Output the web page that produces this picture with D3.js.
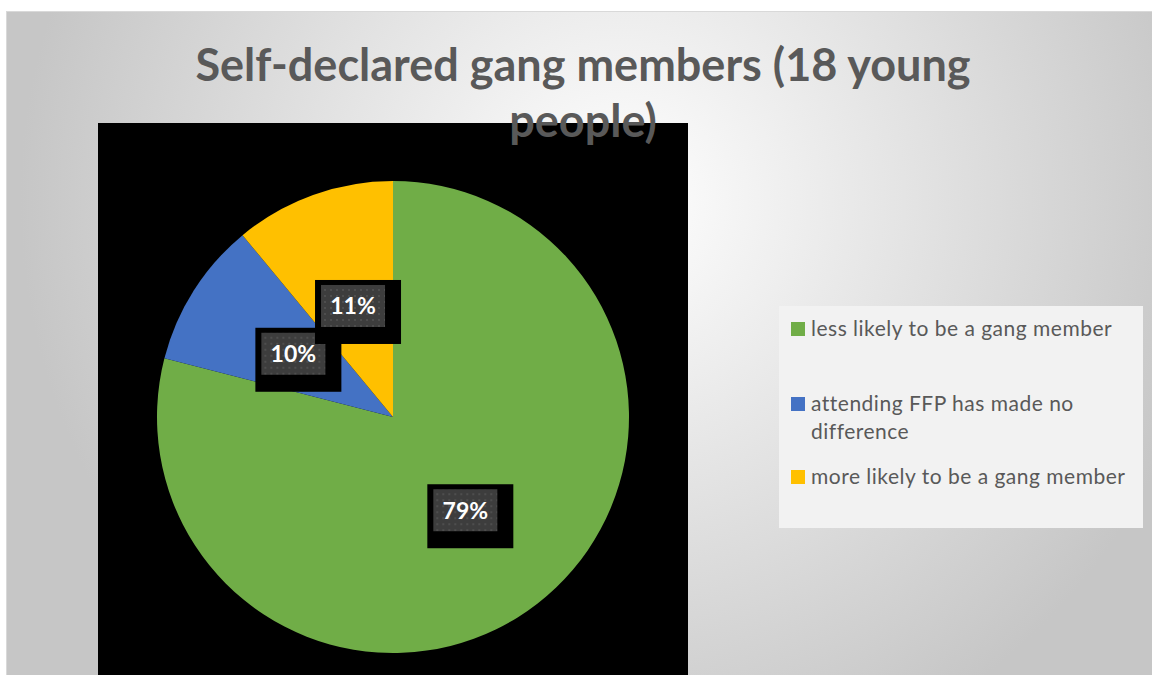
<!DOCTYPE html>
<html>
<head>
<meta charset="utf-8">
<script src="https://cdn.jsdelivr.net/npm/d3@7"></script>
<style>
  html, body { margin: 0; padding: 0; background: #fff; }
  svg { display: block; }
</style>
</head>
<body>
<div class="container"></div>
<script>
// data
const categories = ['less likely to be a gang member', 'attending FFP has made no difference', 'more likely to be a gang member'];
const values = [79, 10, 11];
const labels = ['79%', '10%', '11%'];
const colours = ['#70ad47', '#4472c4', '#ffc000'];
const titleLines = ['Self-declared gang members (18 young', 'people)'];

const w = 1152;
const h = 675;

const svg = d3.select('.container')
              .append('svg')
              .attr('width', w)
              .attr('height', h);

const defs = svg.append('defs');
const grad = defs.append('radialGradient')
                 .attr('id', 'bg')
                 .attr('gradientUnits', 'userSpaceOnUse')
                 .attr('cx', 620).attr('cy', 200).attr('r', 600);
grad.append('stop').attr('offset', '0%').attr('stop-color', '#ffffff');
grad.append('stop').attr('offset', '100%').attr('stop-color', '#c6c6c6');

const pat = defs.append('pattern')
                .attr('id', 'dots')
                .attr('patternUnits', 'userSpaceOnUse')
                .attr('width', 6).attr('height', 6);
pat.append('rect').attr('width', 6).attr('height', 6).attr('fill', '#3d3d3d');
pat.append('rect').attr('x', 1).attr('y', 1).attr('width', 2).attr('height', 2).attr('fill', '#4e4e4e');

// chart area
svg.append('rect')
   .attr('x', 6.5).attr('y', 11.5)
   .attr('width', w).attr('height', h)
   .attr('fill', 'url(#bg)')
   .attr('stroke', '#d9d9d9');

// plot area
const plotBox = {x: 98, y: 123, width: 590, height: 560};
svg.append('rect')
   .attr('x', plotBox.x).attr('y', plotBox.y)
   .attr('width', plotBox.width).attr('height', plotBox.height)
   .attr('fill', '#000');

const radius = 236;
const plot = svg.append('g')
                .attr('transform', `translate(393, 417)`);

const data = categories.map((c, i) => ({name: c, value: values[i], label: labels[i], colour: colours[i]}));

const pie = d3.pie().sort(null).value(d => d.value);
const arc = d3.arc().innerRadius(0).outerRadius(radius);
const arcs = pie(data);

plot.selectAll('path')
    .data(arcs)
    .enter()
    .append('path')
    .attr('d', arc)
    .attr('fill', d => d.data.colour);

// data labels
const lab = plot.selectAll('g.lab')
                .data(arcs)
                .enter()
                .append('g')
                .attr('class', 'lab')
                .attr('transform', d => `translate(${arc.centroid(d)})`);

lab.append('rect')
   .attr('x', -38).attr('y', -26)
   .attr('width', 86).attr('height', 64)
   .attr('fill', '#000');
lab.append('rect')
   .attr('x', -32).attr('y', -21)
   .attr('width', 64).attr('height', 42)
   .attr('fill', 'url(#dots)');
lab.append('text')
   .attr('text-anchor', 'middle')
   .attr('dy', '0.36em')
   .attr('font-family', 'Lato, sans-serif')
   .attr('font-weight', 'bold')
   .attr('font-size', 23)
   .attr('fill', '#fff')
   .text(d => d.data.label);

// title
svg.append('text')
   .attr('text-anchor', 'middle')
   .attr('font-family', 'Lato, sans-serif')
   .attr('font-weight', 'bold')
   .attr('font-size', 45)
   .attr('fill', '#595959')
   .selectAll('tspan')
   .data(titleLines)
   .enter()
   .append('tspan')
   .attr('x', 583)
   .attr('y', (d, i) => 81 + i * 56)
   .text(d => d);

// legend
const legend = svg.append('g');
legend.append('rect')
      .attr('x', 779).attr('y', 306)
      .attr('width', 364).attr('height', 222)
      .attr('fill', '#f2f2f2');

const legendRows = [
  {lines: ['less likely to be a gang member'], y: 329},
  {lines: ['attending FFP has made no', 'difference'], y: 404},
  {lines: ['more likely to be a gang member'], y: 477}
];

const item = legend.selectAll('g.item')
                   .data(data)
                   .enter()
                   .append('g')
                   .attr('class', 'item')
                   .attr('transform', (d, i) => `translate(791, ${legendRows[i].y})`);

item.append('rect')
    .attr('x', 0).attr('y', -7)
    .attr('width', 14).attr('height', 14)
    .attr('fill', d => d.colour);

item.append('text')
    .attr('font-family', 'Lato, sans-serif')
    .attr('font-size', 21)
    .attr('letter-spacing', 0.5)
    .attr('fill', '#595959')
    .selectAll('tspan')
    .data((d, i) => legendRows[i].lines)
    .enter()
    .append('tspan')
    .attr('x', 20)
    .attr('y', (d, i) => i * 28)
    .attr('dy', '0.35em')
    .text(d => d);
</script>
</body>
</html>
